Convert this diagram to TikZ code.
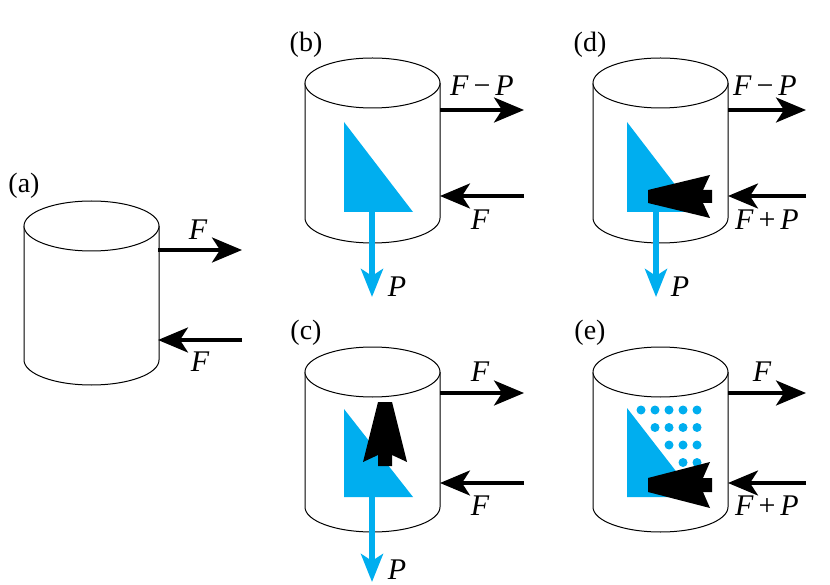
\documentclass[tikz,border=0pt]{standalone}
\usepackage{fontspec}
\setmainfont{Liberation Serif}
\usetikzlibrary{arrows.meta}
\definecolor{sky}{RGB}{0,174,239}
\tikzset{
 cyl/.style={draw=black,line width=1pt,fill=white},
 force/.style={line width=3.5pt,-{Stealth[length=30pt,width=25pt,inset=8pt]}},
 bforce/.style={sky,line width=6pt,-{Stealth[length=28pt,width=22pt,inset=7pt]}},
 lab/.style={font=\fontsize{30}{32}\selectfont\itshape,inner sep=0pt},
 tag/.style={font=\fontsize{28}{30}\selectfont,inner sep=0pt},
 big/.style={fill=black,draw=none},
}
\newcommand{\mycyl}[3]{% x left, y top center, y bottom center
 \draw[cyl] (#1,#2) -- (#1,#3) arc[start angle=180,end angle=0,x radius=67.5,y radius=25] -- (#1+135,#2);
 \draw[cyl] (#1+67.5,#2) ellipse[x radius=67.5,y radius=25];
}
\begin{document}
\begin{tikzpicture}[x=1pt,y=-1pt]
\useasboundingbox (0,0) rectangle (830,585);
% (a)
\node[tag] (ta) at (24,186) {(a)};
\mycyl{24}{226}{360}
\coordinate (a1) at (158,250); \coordinate (a2) at (242,250);
\coordinate (a3) at (242,340); \coordinate (a4) at (158,340);
\draw[force] (a1) -- (a2);
\draw[force] (a3) -- (a4);
\node[lab] (aF1) at (198,230) {F};
\node[lab] (aF2) at (200,362) {F};
% (b)
\node[tag] (tb) at (306,45) {(b)};
\mycyl{305}{83}{218}
\fill[sky] (344,122) -- (344,212) -- (413,212) -- cycle;
\coordinate (bp1) at (372,212); \coordinate (bp2) at (372,297);
\draw[bforce] (bp1) -- (bp2);
\node[lab] (bP) at (397,287) {P};
\coordinate (b1) at (440,110); \coordinate (b2) at (524,110);
\coordinate (b3) at (524,196); \coordinate (b4) at (440,196);
\draw[force] (b1) -- (b2);
\draw[force] (b3) -- (b4);
\node[lab] (bF1) at (482,86) {F\,\textup{−}\,P};
\node[lab] (bF2) at (480,220) {F};
% (c)
\node[tag] (tc) at (306,333) {(c)};
\mycyl{305}{372}{507}
\fill[sky] (344,409) -- (344,497) -- (413,497) -- cycle;
\coordinate (cp1) at (372,497); \coordinate (cp2) at (372,582);
\draw[bforce] (cp1) -- (cp2);
\node[lab] (cP) at (397,570) {P};
\fill[big] (378,402) -- (392,402) -- (407,462) -- (392,455) -- (392,466) -- (378,466) -- (378,455) -- (363,462) -- cycle;
\coordinate (c1) at (440,393); \coordinate (c2) at (524,393);
\coordinate (c3) at (524,483); \coordinate (c4) at (440,483);
\draw[force] (c1) -- (c2);
\draw[force] (c3) -- (c4);
\node[lab] (cF1) at (480,372) {F};
\node[lab] (cF2) at (480,506) {F};
% (d)
\node[tag] (td) at (590,45) {(d)};
\mycyl{593}{83}{218}
\fill[sky] (627,122) -- (627,212) -- (696,212) -- cycle;
\coordinate (dp1) at (656,212); \coordinate (dp2) at (656,297);
\draw[bforce] (dp1) -- (dp2);
\node[lab] (dP) at (680,287) {P};
\fill[big] (648,190) -- (648,203) -- (710,218) -- (703,203) -- (712,203) -- (712,190) -- (703,190) -- (710,175) -- cycle;
\coordinate (d1) at (728,110); \coordinate (d2) at (806,110);
\coordinate (d3) at (806,196); \coordinate (d4) at (728,196);
\draw[force] (d1) -- (d2);
\draw[force] (d3) -- (d4);
\node[lab] (dF1) at (765,86) {F\,\textup{−}\,P};
\node[lab] (dF2) at (767,220) {F\,\textup{+}\,P};
% (e)
\node[tag] (te) at (590,333) {(e)};
\mycyl{593}{372}{507}
\fill[sky] (627,408) -- (627,497) -- (696,497) -- cycle;
\foreach \r in {0,...,3}{
 \foreach \i in {\r,...,4}{
  \fill[sky] (641+14*\i,410+17.5*\r) circle[radius=4.5];
 }
}
\fill[big] (648,478) -- (648,492) -- (710,508) -- (703,492) -- (712,492) -- (712,478) -- (703,478) -- (710,462) -- cycle;
\coordinate (e1) at (728,393); \coordinate (e2) at (806,393);
\coordinate (e3) at (806,483); \coordinate (e4) at (728,483);
\draw[force] (e1) -- (e2);
\draw[force] (e3) -- (e4);
\node[lab] (eF1) at (762,372) {F};
\node[lab] (eF2) at (767,506) {F\,\textup{+}\,P};
\end{tikzpicture}
\end{document}
